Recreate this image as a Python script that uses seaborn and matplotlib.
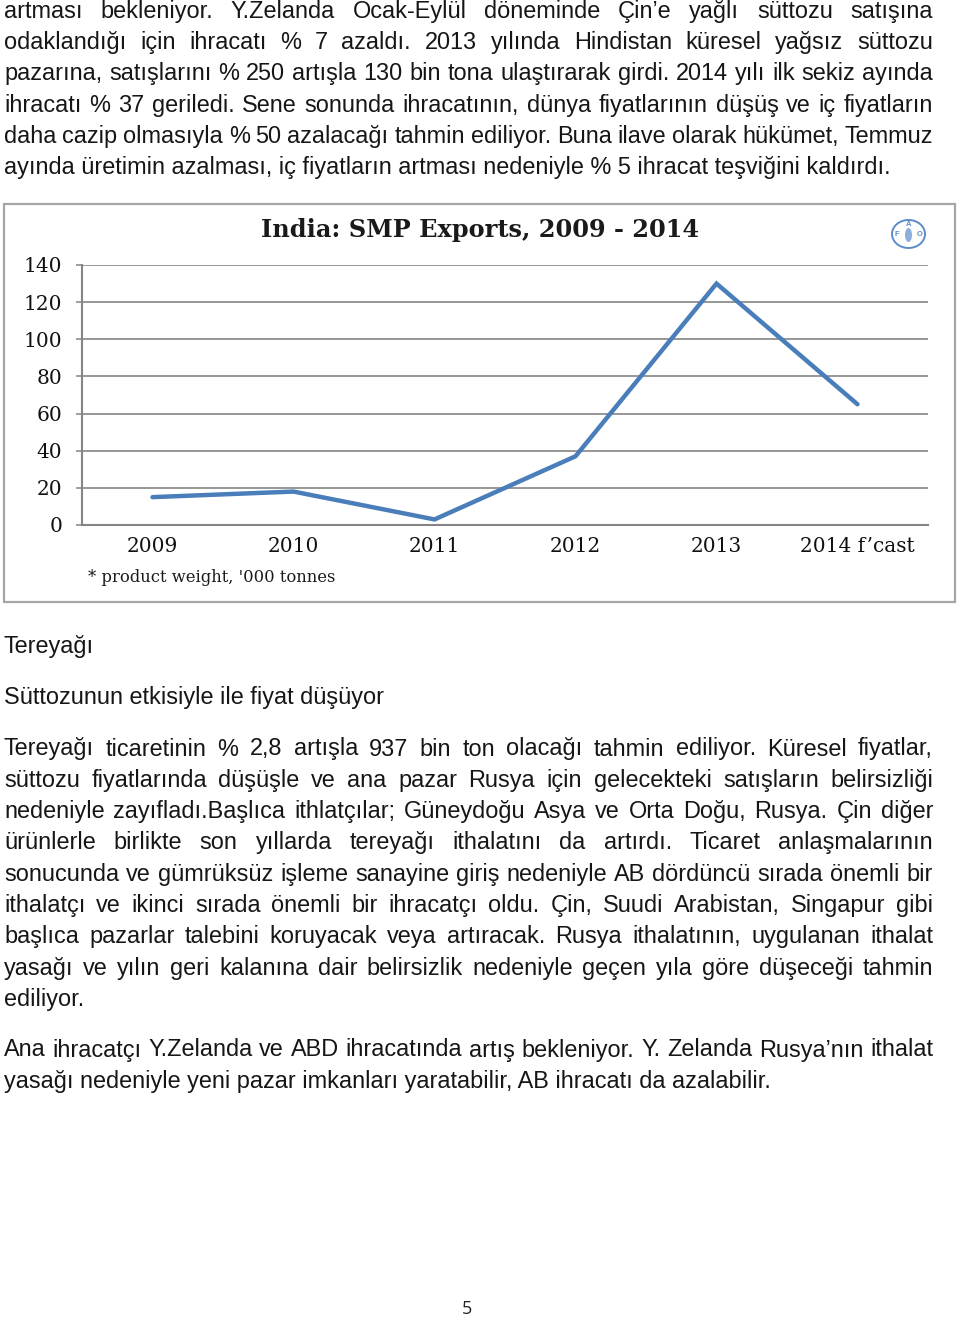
import numpy as np
import pandas as pd
import matplotlib
matplotlib.use("Agg")
import matplotlib.pyplot as plt
import seaborn as sns
from matplotlib.patches import Rectangle, Ellipse

# ---------------- data ----------------
years = ["2009", "2010", "2011", "2012", "2013", "2014 f\u2019cast"]
exports = [15, 18, 3, 37, 130, 65]
y_ticks = [0, 20, 40, 60, 80, 100, 120, 140]
chart_title = "India: SMP Exports, 2009 - 2014"
footnote = "* product weight, '000 tonnes"

para_top = [
    "artması  bekleniyor.  Y.Zelanda  Ocak-Eylül  döneminde  Çin\u2019e  yağlı  süttozu  satışına",
    "odaklandığı için ihracatı % 7 azaldı. 2013 yılında Hindistan küresel yağsız süttozu",
    "pazarına, satışlarını % 250 artışla 130 bin tona ulaştırarak girdi. 2014 yılı ilk sekiz ayında",
    "ihracatı % 37 geriledi. Sene sonunda ihracatının, dünya fiyatlarının düşüş ve iç fiyatların",
    "daha cazip olmasıyla % 50 azalacağı tahmin ediliyor. Buna ilave olarak hükümet, Temmuz",
    "ayında üretimin azalması, iç fiyatların artması nedeniyle % 5 ihracat teşviğini kaldırdı.",
]
heading1 = "Tereyağı"
heading2 = "Süttozunun etkisiyle ile fiyat düşüyor"
para_butter = [
    "Tereyağı ticaretinin % 2,8 artışla 937 bin ton olacağı tahmin ediliyor. Küresel fiyatlar,",
    "süttozu fiyatlarında düşüşle ve ana pazar Rusya için gelecekteki satışların belirsizliği",
    "nedeniyle zayıfladı.Başlıca ithlatçılar; Güneydoğu Asya ve Orta Doğu, Rusya. Çin diğer",
    "ürünlerle birlikte son yıllarda tereyağı ithalatını da artırdı. Ticaret anlaşmalarının",
    "sonucunda ve gümrüksüz işleme sanayine giriş nedeniyle AB dördüncü sırada önemli bir",
    "ithalatçı ve ikinci sırada önemli bir ihracatçı oldu. Çin, Suudi Arabistan, Singapur gibi",
    "başlıca pazarlar talebini koruyacak veya artıracak. Rusya ithalatının, uygulanan ithalat",
    "yasağı ve yılın geri kalanına dair belirsizlik nedeniyle geçen yıla göre düşeceği tahmin",
    "ediliyor.",
]
para_exporters = [
    "Ana ihracatçı Y.Zelanda ve ABD ihracatında artış bekleniyor. Y. Zelanda Rusya\u2019nın ithalat",
    "yasağı nedeniyle yeni pazar imkanları yaratabilir, AB ihracatı da azalabilir.",
]
page_number = "5"

# ---------------- setup ----------------
W, H = 960, 1320
sns.set_theme(style="white")
plt.rcParams["font.family"] = ["Liberation Sans", "DejaVu Sans"]
fig = plt.figure(figsize=(W / 100, H / 100), dpi=100)
fig.patch.set_facecolor("white")


def fx(px):
    return px / W


def fy(py):
    return 1 - py / H


renderer = fig.canvas.get_renderer()
TXT = dict(fontsize=16.9, color="#161616", family=["Liberation Sans", "DejaVu Sans"])
LEFT, RIGHT = 4, 933


def width_of(s, **kw):
    t = fig.text(0, 0, s, **kw)
    w = t.get_window_extent(renderer).width
    t.remove()
    return w


def draw_line(s, baseline, justify):
    if not justify:
        fig.text(fx(LEFT), fy(baseline), s, ha="left", va="baseline", **TXT)
        return
    words = s.split()
    widths = [width_of(w, **TXT) for w in words]
    gap = (RIGHT - LEFT - sum(widths)) / (len(words) - 1)
    x = LEFT
    for w, wd in zip(words, widths):
        fig.text(fx(x), fy(baseline), w, ha="left", va="baseline", **TXT)
        x += wd + gap


def draw_paragraph(lines, first_baseline, step=31.3):
    for i, s in enumerate(lines):
        draw_line(s, first_baseline + i * step, justify=(i < len(lines) - 1))


draw_paragraph(para_top, 18.0, step=31.2)
draw_line(heading1, 653, False)
draw_line(heading2, 704, False)
draw_paragraph(para_butter, 755.5)
draw_paragraph(para_exporters, 1056.5)

fig.text(fx(467), fy(1309), page_number, ha="center", va="center",
         fontsize=13, color="#222222", family=["Open Sans", "DejaVu Sans"])

# ---------------- chart frame ----------------
fig.patches.append(Rectangle((fx(4), fy(602)), fx(955) - fx(4), fy(204) - fy(602),
                             transform=fig.transFigure, fill=False,
                             edgecolor="#a6a6a6", lw=1.6, zorder=0))

SERIF = ["DejaVu Serif"]
fig.text(fx(480), fy(230), chart_title, ha="center", va="center",
         fontsize=17.3, fontweight="bold", color="#1a1a1a", family=SERIF)
fig.text(fx(88), fy(577), footnote, ha="left", va="center",
         fontsize=11.8, color="#1a1a1a", family=SERIF)

# FAO-like logo
logo_blue = "#5b8cc8"
fig.patches.append(Ellipse((fx(908.5), fy(234)), fx(33), 28 / H, transform=fig.transFigure,
                           fill=False, edgecolor=logo_blue, lw=1.4))
fig.patches.append(Ellipse((fx(908.5), fy(235)), fx(7), 14 / H, transform=fig.transFigure,
                           facecolor=logo_blue, edgecolor="none", alpha=0.7))
for ch, (px, py) in zip("FAO", [(897, 235), (908.5, 224), (920, 235)]):
    fig.text(fx(px), fy(py), ch, ha="center", va="center", fontsize=5.5,
             color=logo_blue, fontweight="bold")

# ---------------- line chart ----------------
ax = fig.add_axes([fx(82), fy(525), fx(928) - fx(82), fy(265) - fy(525)])
ax.patch.set_alpha(0)
df = pd.DataFrame({"Year": years, "Exports": exports})
sns.lineplot(data=df, x="Year", y="Exports", ax=ax, color="#4a7ebb", lw=3.2,
             sort=False, solid_capstyle="round", solid_joinstyle="miter")

grid_c = "#858585"
ax.set_xlim(-0.5, 5.5)
ax.set_ylim(0, 140)
ax.set_yticks(y_ticks)
ax.set_yticklabels([str(v) for v in y_ticks])
ax.set_xticks(range(len(years)))
ax.set_xticklabels(years)
ax.set_xticks(np.arange(-0.5, len(years), 1.0), minor=True)
ax.yaxis.grid(True, color=grid_c, lw=1.2)
ax.xaxis.grid(False)
for side in ["top", "right"]:
    ax.spines[side].set_visible(False)
for side in ["left", "bottom"]:
    ax.spines[side].set_color(grid_c)
    ax.spines[side].set_linewidth(1.5)
ax.tick_params(axis="x", which="major", length=0, pad=9)
ax.tick_params(axis="x", which="minor", length=4, width=1.2, color=grid_c, direction="out")
ax.tick_params(axis="y", length=4.3, width=1.1, color=grid_c, direction="out", pad=10, left=True)
for lab in ax.get_xticklabels() + ax.get_yticklabels():
    lab.set_family(SERIF)
    lab.set_fontsize(14.5)
    lab.set_color("#111111")
ax.set_xlabel("")
ax.set_ylabel("")

fig.savefig("out.png", dpi=100, facecolor="white")
